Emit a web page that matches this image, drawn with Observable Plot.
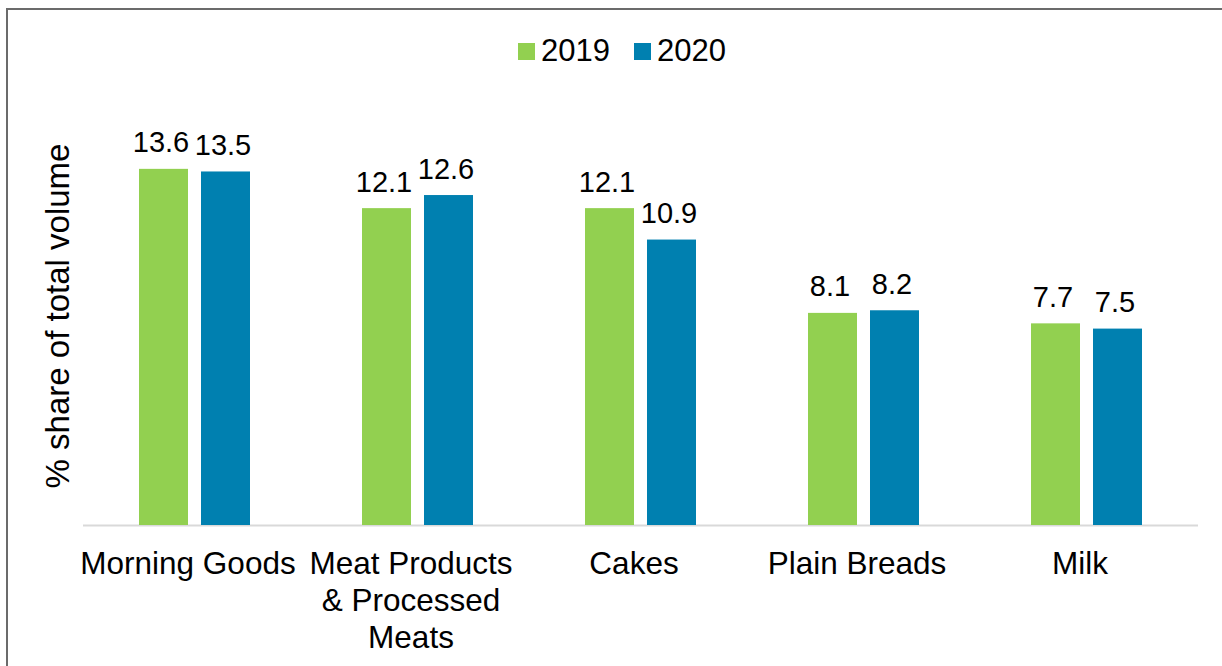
<!DOCTYPE html>
<html><head><meta charset="utf-8">
<script src="https://cdn.jsdelivr.net/npm/d3@7"></script>
<script src="https://cdn.jsdelivr.net/npm/@observablehq/plot@0.6"></script>
<style>
html,body{margin:0;padding:0;background:#fff;}
body{width:1222px;height:666px;overflow:hidden;position:relative;font-family:"Liberation Sans",Arial,sans-serif;}
#frame{position:absolute;left:6px;top:8px;width:1400px;height:900px;border:2px solid #6b6b6b;box-sizing:border-box;pointer-events:none;}
#legend{position:relative;height:90px;}
#legend .box{position:absolute;left:518px;top:36px;height:30px;display:flex;align-items:center;}
#legend .sw{width:17px;height:17px;margin-right:6px;}
#legend .lab{font-size:31px;line-height:30px;color:#000;margin-right:24px;}
#chart svg{display:block;}
</style>
</head><body>
<div id="frame"></div>
<div id="legend"><div class="box"></div></div>
<div id="chart"></div>
<script>
const categories = ["Morning Goods", "Meat Products\n& Processed\nMeats", "Cakes", "Plain Breads", "Milk"];
const years = ["2019", "2020"];
const values2019 = [13.6, 12.1, 12.1, 8.1, 7.7];
const values2020 = [13.5, 12.6, 10.9, 8.2, 7.5];
const colors = ["#92D050", "#0080B0"];
const yTitle = "% share of total volume";

const data = categories.flatMap((c, i) => [
  {category: c, year: years[0], value: values2019[i]},
  {category: c, year: years[1], value: values2020[i]}
]);

// legend
const box = document.querySelector("#legend .box");
years.forEach((y, i) => {
  const sw = document.createElement("div");
  sw.className = "sw"; sw.style.background = colors[i];
  const lab = document.createElement("div");
  lab.className = "lab"; lab.textContent = y;
  box.appendChild(sw); box.appendChild(lab);
});

const chart = Plot.plot({
  width: 1222, height: 576,
  marginLeft: 81, marginRight: 22, marginTop: 16, marginBottom: 141,
  style: {fontFamily: "Liberation Sans, Arial, sans-serif", color: "#000", background: "transparent", overflow: "visible"},
  fx: {domain: categories, padding: 0, label: null},
  x: {domain: years, paddingInner: 0.206, paddingOuter: 0.881, axis: null},
  y: {domain: [0, 16]},
  color: {domain: years, range: colors},
  marks: [
    Plot.axisFx({anchor: "bottom", tickSize: 0, tickPadding: 23, fontSize: 31.5, lineHeight: 1.16, label: null, dx: -7, fill: "#000"}),
    Plot.axisY({ticks: [], tickSize: 0, label: yTitle, labelAnchor: "center", labelArrow: "none", labelOffset: 38, fontSize: 33, fill: "#000"}),
    Plot.ruleY([0], {stroke: "#d9d9d9", strokeWidth: 2}),
    Plot.barY(data, {fx: "category", x: "year", y: "value", fill: "year"}),
    Plot.text(data, {fx: "category", x: "year", y: "value", text: d => d.value.toFixed(1), dy: -17, dx: -3, lineAnchor: "bottom", fontSize: 29, fill: "#000"})
  ]
});
document.getElementById("chart").appendChild(chart);
</script>
</body></html>
